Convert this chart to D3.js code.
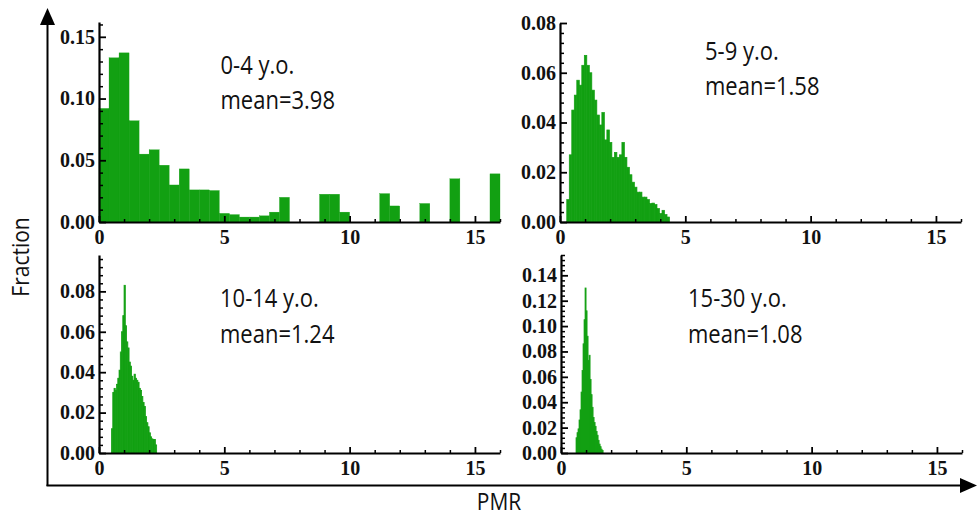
<!DOCTYPE html>
<html>
<head>
<meta charset="utf-8">
<script src="https://cdn.jsdelivr.net/npm/d3@7"></script>
<style>
  html, body { margin: 0; padding: 0; background: #fff; }
  svg { display: block; }
  .tick text { font-family: "Liberation Serif", "Times New Roman", serif; font-weight: bold; font-size: 20px; fill: #111; }
  .ann { font-family: "Open Sans", sans-serif; font-size: 22px; fill: #111; }
</style>
</head>
<body>
<svg id="chart" width="977" height="518"></svg>
<script>
// ---------------- DATA ----------------
const ageGroups = ["0-4 y.o.", "5-9 y.o.", "10-14 y.o.", "15-30 y.o."];
const meanLabels = ["mean=3.98", "mean=1.58", "mean=1.24", "mean=1.08"];
const xTickLabels = [0, 5, 10, 15];
const xMax = 16;

// histogram bin starts and widths (PMR units)
const binStart = [0, 0.27, 0.5, 0.6];
const binWidth = [0.4, 0.1, 0.05, 0.04];

// fractions per bin
const frac04 = [0.092, 0.133, 0.137, 0.082, 0.055, 0.0585, 0.046, 0.030, 0.043, 0.026,
                0.026, 0.0255, 0.007, 0.006, 0.004, 0.004, 0.005, 0.008, 0.020, 0,
                0, 0, 0.0225, 0.0225, 0.008, 0, 0, 0, 0.023, 0.013,
                0, 0, 0.015, 0, 0, 0.035, 0, 0, 0, 0.039];
const frac59 = [0.009, 0.027, 0.045, 0.051, 0.057, 0.055, 0.063, 0.067, 0.063, 0.060,
                0.053, 0.049, 0.043, 0.039, 0.044, 0.033, 0.037, 0.032, 0.026, 0.028,
                0.026, 0.027, 0.032, 0.026, 0.022, 0.019, 0.016, 0.014, 0.012, 0.012,
                0.010, 0.010, 0.009, 0.0074, 0.0076, 0.007, 0.0054, 0.0034, 0.0047, 0.003,
                0.002];
const frac1014 = [0.012, 0.030, 0.032, 0.031, 0.034, 0.037, 0.041, 0.050, 0.060, 0.068,
                  0.083, 0.063, 0.055, 0.052, 0.045, 0.043, 0.038, 0.036, 0.039, 0.037,
                  0.036, 0.035, 0.032, 0.031, 0.028, 0.025, 0.023, 0.018, 0.015, 0.013,
                  0.010, 0.008, 0.007, 0.0067, 0.0067, 0.004];
const frac1530 = [0.012, 0.016, 0.019, 0.026, 0.034, 0.048, 0.065, 0.086, 0.105, 0.130,
                  0.112, 0.092, 0.073, 0.077, 0.058, 0.046, 0.036, 0.028, 0.024, 0.021,
                  0.017, 0.014, 0.010, 0.007, 0.005, 0.003, 0.002];
const seriesList = [frac04, frac59, frac1014, frac1530];

// y-axis: top of range, major tick labels, minor step
const yTop = [0.162, 0.08, 0.098, 0.156];
const yMajor = [
  [0, 0.05, 0.10, 0.15],
  [0, 0.02, 0.04, 0.06, 0.08],
  [0, 0.02, 0.04, 0.06, 0.08],
  [0, 0.02, 0.04, 0.06, 0.08, 0.10, 0.12, 0.14]
];
const yMinorStep = [0.01, 0.004, 0.004, 0.004];

// ---------------- LAYOUT ----------------
const layout = [
  { x0: 99,  x1: 500, y0: 222, y1: 22,  ann: [220.5, 73.5],  ann2: 108.5, sw: 0.3 },
  { x0: 560, x1: 961, y0: 222, y1: 23,  ann: [705, 60],      ann2: 95,    sw: 0.7 },
  { x0: 99,  x1: 500, y0: 453, y1: 255, ann: [220, 306.5],   ann2: 342.5, sw: 0.8 },
  { x0: 561, x1: 962, y0: 453, y1: 255, ann: [688, 306.5],   ann2: 342.5, sw: 0.8 }
];
const green = "#12a012";

const svg = d3.select("#chart");

seriesList.forEach((vals, i) => {
  const L = layout[i];
  const x = d3.scaleLinear().domain([0, xMax]).range([L.x0, L.x1]);
  const y = d3.scaleLinear().domain([0, yTop[i]]).range([L.y0, L.y1]);
  const g = svg.append("g");

  const bins = vals.map((v, k) => ({ a: binStart[i] + k * binWidth[i], b: binStart[i] + (k + 1) * binWidth[i], v }));
  g.selectAll("rect.bar").data(bins.filter(d => d.v > 0)).join("rect")
    .attr("class", "bar")
    .attr("x", d => x(d.a))
    .attr("width", d => Math.max(0.5, x(d.b) - x(d.a)))
    .attr("y", d => y(d.v))
    .attr("height", d => y(0) - y(d.v))
    .attr("fill", green)
    .attr("stroke", green)
    .attr("stroke-width", L.sw);

  // minor x ticks
  const minorX = d3.range(0, xMax + 0.001, 1).filter(t => t % 5 !== 0);
  g.append("g").attr("transform", `translate(0,${L.y0})`)
    .call(d3.axisBottom(x).tickValues(minorX).tickSizeInner(-3).tickSizeOuter(0).tickFormat(""))
    .call(s => s.select(".domain").remove())
    .call(s => s.selectAll("line").attr("stroke", "#000").attr("stroke-width", 1.5));
  // major x axis
  g.append("g").attr("transform", `translate(0,${L.y0})`)
    .call(d3.axisBottom(x).tickValues(xTickLabels).tickSizeInner(-6).tickSizeOuter(0).tickPadding(8).tickFormat(d3.format("d")))
    .call(s => s.select(".domain").attr("stroke", "#000").attr("stroke-width", 2.2))
    .call(s => s.selectAll("line").attr("stroke", "#000").attr("stroke-width", 1.8))
    .call(s => s.selectAll("text").attr("dy", "0.71em").attr("y", 8));

  // minor y ticks
  const minorY = d3.range(0, yTop[i] + 1e-9, yMinorStep[i]).filter(t => !yMajor[i].some(m => Math.abs(m - t) < 1e-6));
  g.append("g").attr("transform", `translate(${L.x0},0)`)
    .call(d3.axisLeft(y).tickValues(minorY).tickSizeInner(-4).tickSizeOuter(0).tickFormat(""))
    .call(s => s.select(".domain").remove())
    .call(s => s.selectAll("line").attr("stroke", "#000").attr("stroke-width", 1.5));
  // major y axis
  g.append("g").attr("transform", `translate(${L.x0},0)`)
    .call(d3.axisLeft(y).tickValues(yMajor[i]).tickSizeInner(-7).tickSizeOuter(0).tickPadding(4).tickFormat(d3.format(".2f")))
    .call(s => s.select(".domain").attr("stroke", "#000").attr("stroke-width", 2.2))
    .call(s => s.selectAll("line").attr("stroke", "#000").attr("stroke-width", 1.8));

  // annotations
  g.append("text").attr("class", "ann")
    .attr("transform", `translate(${L.ann[0]},${L.ann[1]}) scale(1,1.12)`)
    .text(ageGroups[i]);
  g.append("text").attr("class", "ann")
    .attr("transform", `translate(${L.ann[0]},${L.ann2}) scale(1,1.12)`)
    .text(meanLabels[i]);
});

// outer axes with arrows
svg.append("line").attr("x1", 47.5).attr("y1", 486).attr("x2", 47.5).attr("y2", 20)
  .attr("stroke", "#000").attr("stroke-width", 2);
svg.append("path").attr("d", "M40,25 L55,25 L47.5,8 Z").attr("fill", "#000");
svg.append("line").attr("x1", 46.5).attr("y1", 485.5).attr("x2", 965).attr("y2", 485.5)
  .attr("stroke", "#000").attr("stroke-width", 2);
svg.append("path").attr("d", "M960,478 L960,493 L977,485.5 Z").attr("fill", "#000");

svg.append("text").attr("class", "ann")
  .attr("text-anchor", "middle")
  .attr("transform", "translate(28.5,257) rotate(-90) scale(1,1.12)")
  .style("font-size", "21px")
  .text("Fraction");
svg.append("text").attr("class", "ann")
  .attr("text-anchor", "middle")
  .attr("transform", "translate(499,510) scale(1,1.12)")
  .style("font-size", "21px")
  .text("PMR");
</script>
</body>
</html>
